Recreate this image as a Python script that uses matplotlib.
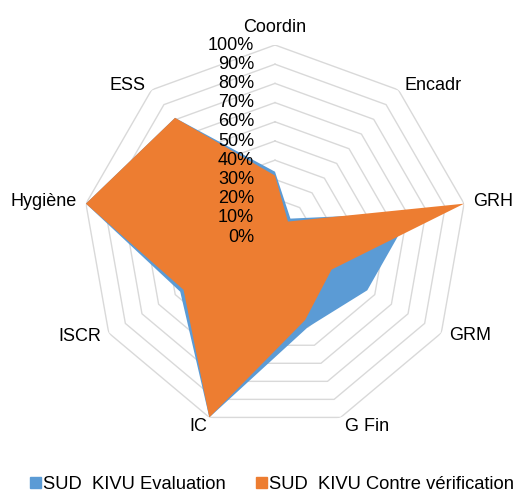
import numpy as np
import matplotlib.pyplot as plt
from matplotlib.patches import Patch

plt.rcParams['font.family'] = ['Liberation Sans', 'DejaVu Sans']

categories = ['Coordin', 'Encadr', 'GRH', 'GRM', 'G Fin', 'IC', 'ISCR', 'Hygiène', 'ESS']
evaluation = [0.34, 0.125, 0.72, 0.555, 0.50, 1.0, 0.57, 1.0, 0.81]
contre_verif = [0.32, 0.105, 1.0, 0.34, 0.46, 1.0, 0.55, 1.0, 0.81]
levels = [0.0, 0.1, 0.2, 0.3, 0.4, 0.5, 0.6, 0.7, 0.8, 0.9, 1.0]
level_labels = ['0%', '10%', '20%', '30%', '40%', '50%', '60%', '70%', '80%', '90%', '100%']
series_names = ['SUD  KIVU Evaluation', 'SUD  KIVU Contre vérification']

c_blue = '#5b9bd5'
c_orange = '#ed7d31'
c_grid = '#d9d9d9'
fs = 13

n = len(categories)
theta = np.linspace(0, 2 * np.pi, n, endpoint=False)
theta_c = np.append(theta, theta[0])

def closed(v):
    return np.append(v, v[0])

fig = plt.figure(figsize=(5.21, 4.96), dpi=100)
ax = fig.add_axes([83 / 521, 67 / 496, 384 / 521, 384 / 496], projection='polar')
ax.set_theta_zero_location('N')
ax.set_theta_direction(-1)
ax.set_ylim(0, 1)
ax.grid(False)
ax.set_xticks([])
ax.set_yticks([])
ax.spines['polar'].set_visible(False)
ax.patch.set_alpha(0)

# polygon grid
for lv in levels[1:]:
    ax.plot(theta_c, np.full(n + 1, lv), color=c_grid, lw=1.0, zorder=1)

ax.fill(theta_c, closed(evaluation), color=c_blue, lw=0, zorder=2)
ax.fill(theta_c, closed(contre_verif), color=c_orange, lw=0, zorder=3)

# value axis labels
for lv, lab in zip(levels, level_labels):
    ax.annotate(lab, xy=(0, lv), xytext=(-21, 0), textcoords='offset pixels',
                ha='right', va='center', fontsize=fs, color='#000000', zorder=5)

# category labels: (dx, dy, ha, va)
lab_pos = {
    'Coordin': (0, 13, 'center', 'baseline'),
    'Encadr': (6, 0, 'left', 'baseline'),
    'GRH': (9, 2, 'left', 'center'),
    'GRM': (8, -3, 'left', 'center'),
    'G Fin': (4, -1, 'left', 'top'),
    'IC': (-2, -1, 'right', 'top'),
    'ISCR': (-7, -3, 'right', 'center'),
    'Hygiène': (-9, 2, 'right', 'center'),
    'ESS': (-6, 0, 'right', 'baseline'),
}
for t, cat in zip(theta, categories):
    dx, dy, ha, va = lab_pos[cat]
    ax.annotate(cat, xy=(t, 1.0), xytext=(dx, dy), textcoords='offset pixels',
                ha=ha, va=va, fontsize=fs, color='#000000')

handles = [Patch(color=c_blue, label=series_names[0]),
           Patch(color=c_orange, label=series_names[1])]
fig.legend(handles=handles, loc='lower center', bbox_to_anchor=(0.522, -0.02),
           ncol=2, frameon=False, fontsize=13.2, handlelength=0.6, handleheight=0.6,
           handletextpad=0.15, columnspacing=1.6, borderpad=0.2)

fig.savefig('out.png', dpi=100)
